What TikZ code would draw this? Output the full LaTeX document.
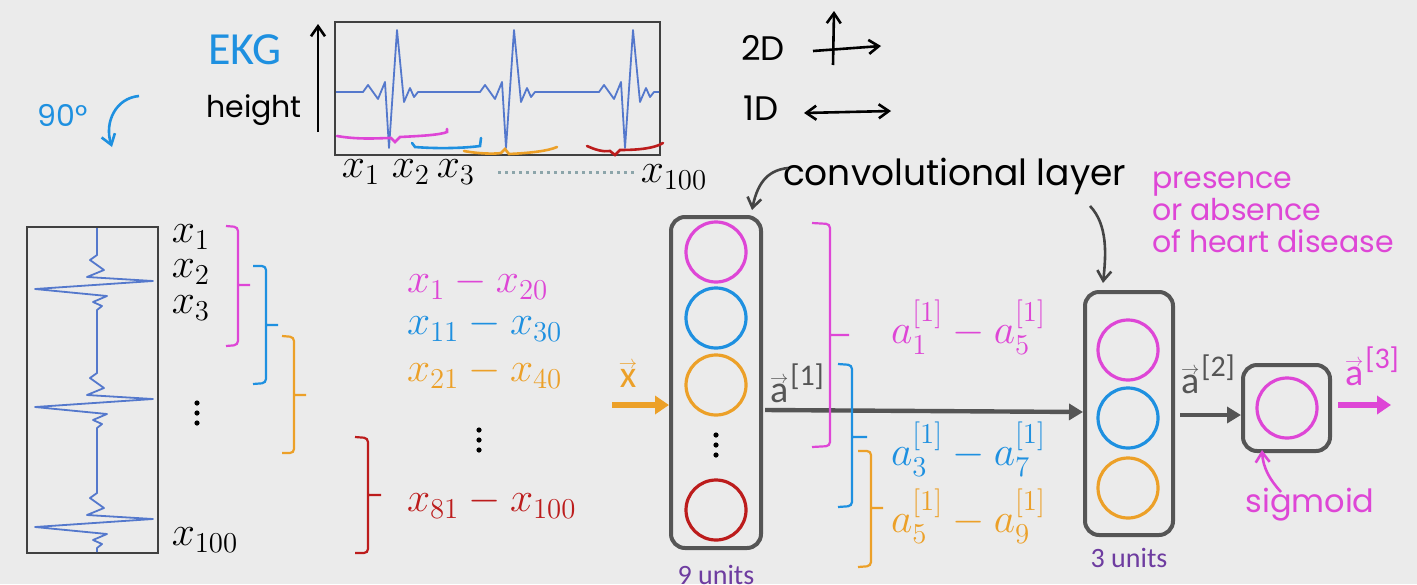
\documentclass[tikz,border=0pt]{standalone}
\usepackage{fontspec}
\usepackage{amsmath}
\usepackage{graphicx}
\usetikzlibrary{arrows.meta}
\newfontfamily\calib{Carlito}
\newfontfamily\hand{Poppins}
\definecolor{bg}{RGB}{235,235,235}
\definecolor{mag}{RGB}{222,70,214}
\definecolor{cblue}{RGB}{30,144,224}
\definecolor{corange}{RGB}{236,160,40}
\definecolor{cred}{RGB}{188,28,28}
\definecolor{cpurp}{RGB}{110,60,160}
\definecolor{cgray}{RGB}{85,85,85}
\definecolor{sig}{RGB}{84,120,204}
\definecolor{dotc}{RGB}{140,165,170}
\newcommand\beatH[1]{ -- ({#1-34},92) -- ({#1-29},85) -- ({#1-19},99) -- ({#1-12},82) -- ({#1-8},148) -- (#1,30) -- ({#1+7},102) -- ({#1+13},88) -- ({#1+17},97) -- ({#1+21},92)}
\newcommand\beatV[1]{ -- (97,{#1-34}) -- (90,{#1-29}) -- (104,{#1-19}) -- (87,{#1-12}) -- (153,{#1-8}) -- (35,#1) -- (107,{#1+7}) -- (93,{#1+13}) -- (102,{#1+17}) -- (97,{#1+21})}
\newcommand\vecl[1]{\ooalign{#1\cr\hidewidth\raisebox{0.5em}{\resizebox{0.48em}{!}{$\rightarrow$}}\hidewidth\cr}}
\newcommand\avec[1]{{\calib\vecl{a}\kern1pt\raisebox{0.95ex}{\fontsize{15}{16}\selectfont[#1]}}}
\newcommand\threedots[2]{\fill (#1,{#2-10}) circle (1.3pt) (#1,#2) circle (1.3pt) (#1,{#2+10}) circle (1.3pt);}
\begin{document}
\begin{tikzpicture}[x=0.5pt,y=-0.5pt,
  handtxt/.style={font=\hand\fontsize{#1}{#1}\selectfont},
  handtxt/.default=16,
  mathtxt/.style={font=\fontsize{20}{24}\selectfont},
  harrow/.style={line width=1.3pt,-{Straight Barb[length=5pt,width=7pt,line width=1.3pt]}},
  brk/.style={line width=1.1pt,rounded corners=2pt},
  unit/.style={circle,draw,line width=1.6pt,minimum size=30pt,inner sep=0pt},
  layer/.style={draw=cgray,line width=2pt,rounded corners=7pt,inner sep=0pt},
  netarrow/.style={draw=cgray,line width=2.2pt,-{Triangle[length=7pt,width=8pt]}},
  units/.style={font=\calib\fontsize{14}{16}\selectfont,text=cpurp},
  alab/.style={font=\fontsize{19}{22}\selectfont,text=cgray},
  sigline/.style={draw=sig,line width=0.9pt,line join=round}
]
\fill[bg] (0,0) rectangle (1417,584);
\useasboundingbox (0,0) rectangle (1417,584);

% ---------- top area ----------
\node[text=cblue,font=\calib\fontsize{23}{26}\selectfont] (ekg) at (245,50) {EKG};
\node[handtxt=15,text=cblue] (ninety) at (63,115) {90°};
\coordinate (rotS) at (139,96);
\coordinate (rotE) at (112,147);
\draw[harrow,cblue] (rotS) .. controls (116,98) and (104,122) .. (rotE);
\node[handtxt=15] (height) at (254,110) {height};
\coordinate (hb) at (318,132);
\coordinate (ht) at (318,24);
\draw[harrow] (hb) -- (ht);

\node[draw=black!75,line width=0.8pt,minimum width=162.5pt,minimum height=66.5pt,inner sep=0pt] (chart) at (497.5,88.5) {};
\draw[sigline] (336,92) \beatH{397} \beatH{514} \beatH{633} -- (659,92);
% hand brackets under the top signal
\draw[mag,line width=1.3pt,line cap=round] (337,136) .. controls (360,140) and (380,138) .. (391,138) -- (395,142) -- (400,137) .. controls (420,136) and (440,135) .. (447,132) -- (447,129);
\draw[cblue,line width=1.3pt,line cap=round] (412,143) -- (415,147) .. controls (440,149) and (465,148) .. (480,146) -- (481,138);
\draw[corange,line width=1.3pt,line cap=round] (464,151) .. controls (480,154) and (495,154) .. (501,153) -- (505,149) -- (509,154) .. controls (530,153) and (548,151) .. (557,147);
\draw[cred,line width=1.3pt,line cap=round] (587,146) .. controls (596,150) and (603,152) .. (610,151) -- (615,155) -- (620,150) .. controls (640,150) and (655,148) .. (663,143);

\node[mathtxt] (tx1) at (361,172) {$x_1$};
\node[mathtxt] (tx2) at (411,172) {$x_2$};
\node[mathtxt] (tx3) at (456,172) {$x_3$};
\node[mathtxt] (tx100) at (674,177) {$x_{100}$};
\draw[dotc,line width=1.5pt,dotted] (tx3.east) ++(16,0) coordinate (dS) -- (tx100.west |- dS) coordinate (dE);

\node[handtxt=17] (twod) at (763,48) {2D};
\coordinate (v2b) at (833,65);
\coordinate (v2t) at (834,11);
\coordinate (h2a) at (813,51);
\coordinate (h2b) at (881,46);
\draw[harrow] (v2b) -- (v2t);
\draw[harrow] (h2a) -- (h2b);
\node[handtxt=17] (oned) at (761,108) {1D};
\coordinate (o1a) at (804,113);
\coordinate (o1b) at (891,111);
\draw[line width=1.3pt,{Straight Barb[length=5pt,width=7pt,line width=1.3pt]}-{Straight Barb[length=5pt,width=7pt,line width=1.3pt]}] (o1a) -- (o1b);

% ---------- vertical signal ----------
\node[draw=black!75,line width=0.8pt,minimum width=65.5pt,minimum height=163pt,inner sep=0pt] (vchart) at (92.5,390) {};
\draw[sigline] (97,228) \beatV{289} \beatV{407} \beatV{527} -- (97,552);
\node[mathtxt] (vx1) at (191,237) {$x_1$};
\node[mathtxt] (vx2) at (191,272) {$x_2$};
\node[mathtxt] (vx3) at (191,308) {$x_3$};
\threedots{197}{413}
\node[mathtxt] (vx100) at (205,540) {$x_{100}$};

% brackets
\draw[brk,mag] (226,226) -- (238,227) -- (238,345) -- (226,346) (238,285) -- (250,285);
\draw[brk,cblue] (253,266) -- (266,266) -- (266,383) -- (253,384) (266,325) -- (278,325);
\draw[brk,corange] (282,336) -- (294,337) -- (294,453) -- (282,453) (294,395) -- (306,395);
\draw[brk,cred] (355,437) -- (368,438) -- (368,553) -- (355,553) (368,495) -- (381,495);

\node[mathtxt,text=mag,anchor=west] (r1) at (400,284) {$x_1 - x_{20}$};
\node[mathtxt,text=cblue,anchor=west] (r2) at (400,326) {$x_{11} - x_{30}$};
\node[mathtxt,text=corange,anchor=west] (r3) at (400,373) {$x_{21} - x_{40}$};
\threedots{479}{440}
\node[mathtxt,text=cred,anchor=west] (r4) at (400,503) {$x_{81} - x_{100}$};

% ---------- network ----------
\node[layer,minimum width=45pt,minimum height=165.5pt] (L1) at (716,382.5) {};
\node[unit,draw=mag] (c1) at (716,252) {};
\node[unit,draw=cblue] (c2) at (716,318) {};
\node[unit,draw=corange] (c3) at (716,385) {};
\threedots{716}{445}
\node[unit,draw=cred] (c4) at (716,510) {};
\node[units] (u9) at (716,575) {9 units};

\coordinate (xin) at (612,405);
\draw[draw=corange,line width=2.8pt,-{Triangle[length=7pt,width=9pt]}] (xin) -- (L1.west |- xin);
\node[alab,text=corange] (xlab) at (628,378) {{\calib\vecl{x}}};

\node[handtxt=18,anchor=west] (conv) at (776,176) {convolutional layer};
\coordinate (cvS) at (788,168);
\draw[harrow,cgray!80!black] (cvS) .. controls (770,170) and (758,180) .. (752,210);

\node[layer,minimum width=44pt,minimum height=121.5pt] (L2) at (1129,413.5) {};
\node[unit,draw=mag] (d1) at (1128,350) {};
\node[unit,draw=cblue] (d2) at (1128,418) {};
\node[unit,draw=corange] (d3) at (1128,488) {};
\node[units] (u3) at (1129,558) {3 units};
\coordinate (cv2S) at (1090,206);
\draw[harrow,cgray!80!black] (cv2S) .. controls (1108,225) and (1106,255) .. (1103,283);

\coordinate (a1S) at (765,410);
\draw[netarrow] (a1S) -- (L2.west |- 0,412);
\node[alab] (a1lab) at (797,383) {\avec{1}};

\draw[brk,mag] (812,223) -- (830,224) -- (830,446) -- (812,447) (830,335) -- (849,335);
\draw[brk,cblue] (838,364) -- (852,365) -- (852,506) -- (838,507) (852,437) -- (867,437);
\draw[brk,corange] (858,451) -- (871,451) -- (871,566) -- (858,567) (871,508) -- (883,508);

\node[mathtxt,text=mag,anchor=west] (s1) at (884,327) {$a_1^{[1]} - a_5^{[1]}$};
\node[mathtxt,text=cblue,anchor=west] (s2) at (884,449) {$a_3^{[1]} - a_7^{[1]}$};
\node[mathtxt,text=corange,anchor=west] (s3) at (884,516) {$a_5^{[1]} - a_9^{[1]}$};

\node[layer,minimum width=43.5pt,minimum height=43pt] (L3) at (1286.5,408) {};
\node[unit,draw=mag] (e1) at (1287,408) {};
\coordinate (a2S) at (1180,415);
\draw[netarrow] (a2S) -- (L3.west |- a2S);
\node[alab] (a2lab) at (1208,374) {\avec{2}};
\coordinate (a3E) at (1391,405);
\draw[draw=mag,line width=2.8pt,-{Triangle[length=7pt,width=9pt]}] (L3.east |- a3E) ++(6,0) -- (a3E);
\node[alab,text=mag] (a3lab) at (1372,366) {\avec{3}};

\node[handtxt=15,text=mag,anchor=west,align=left] (pres) at (1145,212) {presence\\[1pt]or absence\\[1pt]of heart disease};
\node[handtxt=16,text=mag] (sigm) at (1310,505) {sigmoid};
\coordinate (sgS) at (1281,492);
\draw[harrow,mag] (sgS) .. controls (1270,480) and (1263,468) .. (1262,450);
\end{tikzpicture}
\end{document}
